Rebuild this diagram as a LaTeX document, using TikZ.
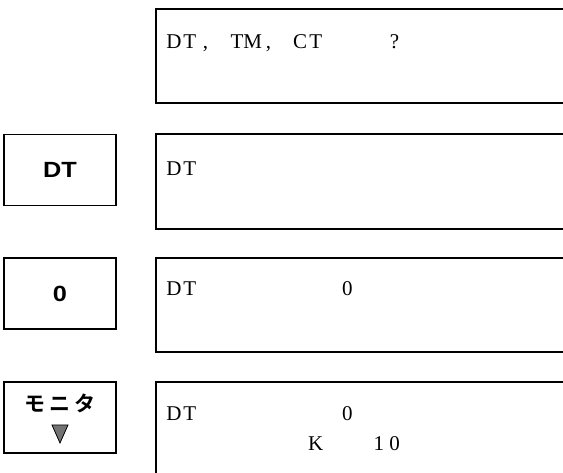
\documentclass[tikz,border=0pt]{standalone}
\usepackage{fontspec}
\usepackage{graphicx}
\setmainfont{Liberation Serif}
\newfontfamily\keyfont{Liberation Sans}
\newfontfamily\jpfont{Noto Sans CJK JP Bold}
\newlength{\cellw}\setlength{\cellw}{15.75pt}
\newcommand{\cell}[1]{\makebox[\cellw][c]{#1}}
\newcommand{\jpcell}[1]{\makebox[25pt][c]{#1}}
\newcommand{\keylabel}[1]{\scalebox{1.15}[1]{#1}}
\newcommand{\lcdsize}{\fontsize{21pt}{22pt}\selectfont}
\newcommand{\keysize}{\fontsize{22pt}{24pt}\selectfont}
\tikzset{
  keybox/.style={draw, line width=1.3pt, minimum width=112pt, minimum height=71pt,
    inner sep=0pt, font=\keyfont\bfseries\keysize},
  lcdframe/.style={line width=1.4pt},
  lcdtext/.style={inner sep=0pt, anchor=base west, font=\lcdsize},
}
\begin{document}
\begin{tikzpicture}[x=1pt,y=1pt]
  \useasboundingbox (0,0) rectangle (563,473);
  % Display frames, open at the right
  \draw[lcdframe] (563,464) -- (156,464) -- (156,370) -- (563,370);
  \draw[lcdframe] (563,339) -- (156,339) -- (156,244) -- (563,244);
  \draw[lcdframe] (563,215) -- (156,215) -- (156,121) -- (563,121);
  \draw[lcdframe] (563,91) -- (156,91) -- (156,0);
  % Display texts
  \node[lcdtext] (ask) at (166,424) {\cell{D}\cell{T}\cell{,}\cell{}\cell{T}\cell{M}\cell{,}\cell{}\cell{C}\cell{T}\cell{}\cell{}\cell{}\cell{}\cell{?}};
  \node[lcdtext] (dta) at (166,297) {\cell{D}\cell{T}};
  \node[lcdtext] (dtb) at (166,177) {\cell{D}\cell{T}};
  \node[lcdtext] (vala) at ({166+11*15.75},177) {\cell{0}};
  \node[lcdtext] (dtc) at (166,52) {\cell{D}\cell{T}};
  \node[lcdtext] (valb) at ({166+11*15.75},52) {\cell{0}};
  \node[lcdtext] (kname) at ({166+9*15.75},22) {\cell{K}};
  \node[lcdtext] (kval) at ({166+13*15.75},22) {\cell{1}\cell{0}};
  % Keys
  \node[keybox] (dtkey) at (60,303) {\keylabel{DT}};
  \node[keybox] (zerokey) at (60,179.5) {\keylabel{0}};
  \node[keybox] (monkey) at (60,55.5) {};
  \node[inner sep=0pt, font=\jpfont\fontsize{21pt}{22pt}\selectfont] (montext) at (60,70) {\jpcell{モ}\jpcell{ニ}\jpcell{タ}};
  \filldraw[fill=black!55, draw=black, line width=0.8pt] (52,48) -- (68,48) -- (60,30) -- cycle;
\end{tikzpicture}
\end{document}
